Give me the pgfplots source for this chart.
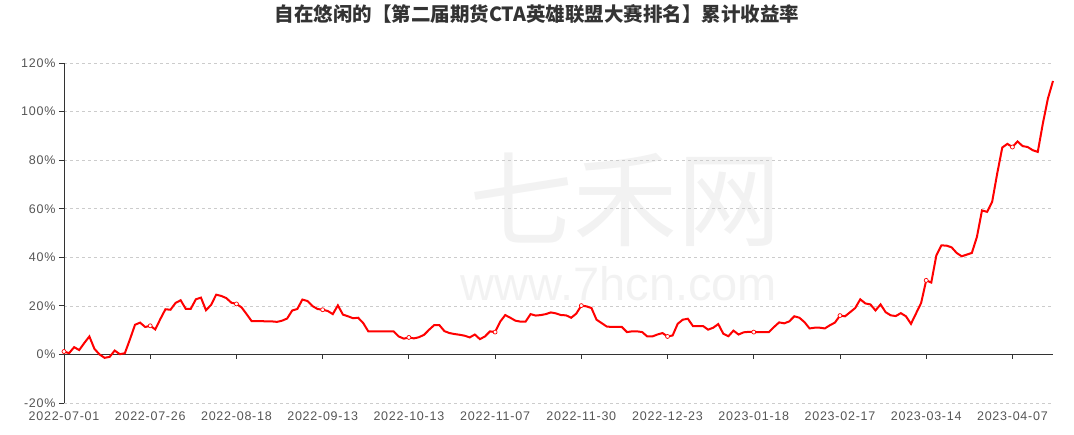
\documentclass[border=0pt]{standalone}
\usepackage{fontspec}
\usepackage{pgfplots}
\usepackage{pgfplotstable}
\pgfplotsset{compat=1.18}
\setmainfont{Liberation Sans}
\newfontfamily\cjk{Noto Sans CJK SC}
\newfontfamily\tickfont[LetterSpace=6]{Liberation Sans}
\definecolor{linered}{HTML}{FF0000}
\definecolor{gridc}{HTML}{CCCCCC}
\definecolor{axc}{HTML}{333333}
\definecolor{labc}{HTML}{555555}
\definecolor{wm}{HTML}{F2F2F2}

\pgfplotstableread{
i v
0 1.2
1 0.5
2 3.0
3 1.8
4 4.7
5 7.4
6 2.3
7 0.0
8 -1.4
9 -1.0
10 1.6
11 0.1
12 0.5
13 6.2
14 12.2
15 13.1
16 11.3
17 11.8
18 10.3
19 14.6
20 18.6
21 18.4
22 21.2
23 22.3
24 18.8
25 18.8
26 22.7
27 23.4
28 18.2
29 20.4
30 24.6
31 24.1
32 23.2
33 21.3
34 20.8
35 19.4
36 16.6
37 13.7
38 13.7
39 13.7
40 13.6
41 13.6
42 13.4
43 13.9
44 14.8
45 18.1
46 18.7
47 22.6
48 22.0
49 19.9
50 18.7
51 18.4
52 17.9
53 16.6
54 20.2
55 16.4
56 15.7
57 14.9
58 15.1
59 12.9
60 9.5
61 9.5
62 9.5
63 9.5
64 9.5
65 9.5
66 7.4
67 6.5
68 7.0
69 6.6
70 7.1
71 8.1
72 10.2
73 12.1
74 12.1
75 9.6
76 8.8
77 8.4
78 8.1
79 7.7
80 7.0
81 8.2
82 6.3
83 7.4
84 9.5
85 9.2
86 13.5
87 16.2
88 15.1
89 13.9
90 13.5
91 13.5
92 16.6
93 16.0
94 16.2
95 16.6
96 17.3
97 16.9
98 16.2
99 16.1
100 15.1
101 16.8
102 20.1
103 19.8
104 19.1
105 14.3
106 12.9
107 11.5
108 11.3
109 11.3
110 11.3
111 9.2
112 9.5
113 9.5
114 9.2
115 7.4
116 7.4
117 8.2
118 8.8
119 7.4
120 7.8
121 12.6
122 14.3
123 14.7
124 11.7
125 11.7
126 11.7
127 10.2
128 11.0
129 12.5
130 8.5
131 7.5
132 9.8
133 8.2
134 9.1
135 9.3
136 9.2
137 9.2
138 9.2
139 9.2
140 11.3
141 13.2
142 12.8
143 13.6
144 15.7
145 15.1
146 13.3
147 10.7
148 11.0
149 11.0
150 10.7
151 12.0
152 13.1
153 16.0
154 15.7
155 17.4
156 19.1
157 22.7
158 21.0
159 20.6
160 18.1
161 20.6
162 17.4
163 16.1
164 15.8
165 17.0
166 15.7
167 12.6
168 16.9
169 21.2
170 30.5
171 29.6
172 40.8
173 44.9
174 44.8
175 44.1
176 41.8
177 40.4
178 41.1
179 41.8
180 48.4
181 59.3
182 58.7
183 62.8
184 74.5
185 85.2
186 86.7
187 85.4
188 87.7
189 85.8
190 85.4
191 84.1
192 83.4
193 95.1
194 105.4
195 112.6
}\datatable

\begin{document}
\begin{tikzpicture}[x=1pt,y=1pt]
\useasboundingbox (-64,-31) rectangle (1010,403);
\node[text=wm, font=\cjk\fontsize{104}{104}\selectfont] at (561,203) {七禾网};
\node[text=wm, font=\fontsize{47}{47}\selectfont] at (555,119) {www.7hcn.com};
\begin{axis}[at={(0,0)}, anchor=south west, scale only axis,
  width=989pt, height=340pt,
  xmin=0, xmax=195, ymin=-20, ymax=120,
  axis y line*=left, axis x line*=bottom,
  x axis line style={draw=none},
  y axis line style={axc, line width=0.8pt, -},
  xtick={0,17,34,51,68,85,102,119,136,153,170,187},
  xticklabels={2022-07-01,2022-07-26,2022-08-18,2022-09-13,2022-10-13,2022-11-07,2022-11-30,2022-12-23,2023-01-18,2023-02-17,2023-03-14,2023-04-07},
  xtick style={draw=none},
  ytick={-20,0,20,40,60,80,100,120},
  yticklabel={\pgfmathprintnumber{\tick}\%},
  ytick style={axc, line width=0.8pt},
  tick align=outside, major tick length=5pt,
  ymajorgrids, grid style={dashed, gridc, line width=0.6pt},
  ticklabel style={font=\tickfont\fontsize{12.5}{14}\selectfont, text=labc},
  /pgf/number format/assume math mode=true,
  clip=false,
]
\draw[axc, line width=0.8pt] (axis cs:0,0) -- (axis cs:195,0);
\pgfplotsinvokeforeach{0,17,34,51,68,85,102,119,136,153,170,187}{
  \draw[axc, line width=0.8pt] (axis cs:#1,0) -- ([yshift=-5pt]axis cs:#1,0);
}
\addplot[linered, line width=2pt, mark=*,
  mark indices={1,18,35,52,69,86,103,120,137,154,171,188},
  mark options={fill=white, draw=linered, line width=0.7pt, solid},
  mark size=2pt] table[x=i,y=v]{\datatable};
\end{axis}
\node[font=\cjk\bfseries\fontsize{19.5}{20}\selectfont, text=axc] at (473,389) {自在悠闲的【第二届期货CTA英雄联盟大赛排名】累计收益率};
\end{tikzpicture}
\end{document}
